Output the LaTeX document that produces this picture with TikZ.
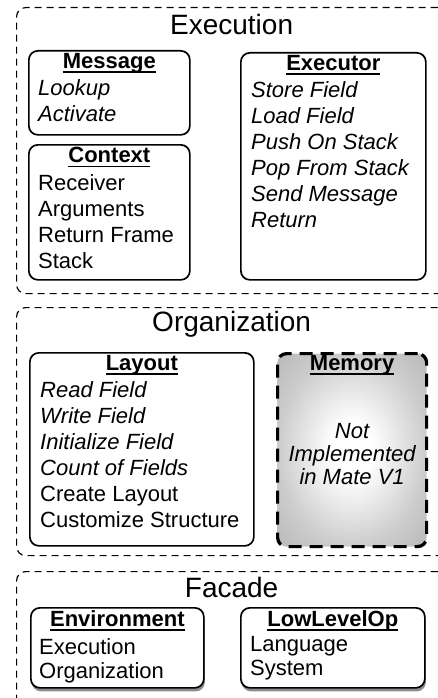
\documentclass[tikz,border=0pt]{standalone}
\usepackage{fontspec}
\setmainfont{Liberation Sans}
\usetikzlibrary{positioning,shadows}

% underlined bold heading of a module
\newcommand\modhead[1]{\setbox0\hbox{\bfseries #1}\rlap{\rule[-4.6pt]{\wd0}{1.5pt}}\box0}
\newcommand\opsfont{\fontsize{22}{26}\selectfont}
\pgfdeclareradialshading{memglow}{\pgfpoint{0bp}{0bp}}{color(0bp)=(white);
  color(7bp)=(white); color(25bp)=(black!20); color(50bp)=(black!38)}

\tikzset{
  layer/.style={draw, dash pattern=on 7pt off 5pt, line width=1.2pt, rounded corners=9pt,
    anchor=north west, inner sep=0pt},
  module/.style={draw, line width=1.7pt, rounded corners=9pt, anchor=north west,
    inner sep=0pt, fill=white},
  missing/.style={module, line width=3.2pt, dash pattern=on 13pt off 8pt,
    shading=memglow},
  facade/.style={module, drop shadow={shadow xshift=1pt, shadow yshift=-3.5pt,
    opacity=0.45, fill=black}},
  title/.style={font=\fontsize{28}{32}\selectfont, inner sep=0pt},
  header/.style={font=\opsfont, inner sep=0pt},
  ops/.style={font=\opsfont, align=left, inner sep=0pt, anchor=north west},
}

\begin{document}
\begin{tikzpicture}[x=1pt, y=-1pt]
   \useasboundingbox (0,0) rectangle (438,698);
   \clip (0,0) rectangle (438,698);

   % layers
   \node[layer, minimum width=430pt, minimum height=286pt] (execution) at (16,7) {};
   \node[layer, minimum width=430pt, minimum height=248pt] (organization) at (16,307) {};
   \node[layer, minimum width=430pt, minimum height=169pt] (facade) at (16,571) {};
   \node[title] (execution_t) [below=7pt of execution.north] {Execution};
   \node[title] (organization_t) [below=4.5pt of organization.north] {Organization};
   \node[title] (facade_t) [below=6pt of facade.north] {Facade};

   % execution
   \node[module, minimum width=161pt, minimum height=84pt] (message) at (28,50) {};
   \node[module, minimum width=161pt, minimum height=135pt] (context) at (28,144) {};
   \node[module, minimum width=185pt, minimum height=227pt] (executor) at (240,52) {};
   \node[header] (message_h) [below=3pt of message.north] {\modhead{Message}};
   \node[header] (context_h) [below=3pt of context.north] {\modhead{Context}};
   \node[header] (executor_h) [below=3pt of executor.north] {\modhead{Executor}};
   \node[ops] (message_o) at ([xshift=10pt, yshift=-29.5pt]message.north west)
      {\textit{Lookup}\\ \textit{Activate}};
   \node[ops] (context_o) at ([xshift=10pt, yshift=-30.5pt]context.north west)
      {Receiver\\ Arguments\\ Return Frame\\ Stack};
   \node[ops] (executor_o) at ([xshift=11pt, yshift=-29.5pt]executor.north west)
      {\textit{Store Field}\\ \textit{Load Field}\\ \textit{Push On Stack}\\
       \textit{Pop From Stack}\\ \textit{Send Message}\\ \textit{Return}};

   % organization
   \node[module, minimum width=224pt, minimum height=193pt] (layout) at (29,352) {};
   \node[missing, minimum width=149pt, minimum height=193pt] (memory) at (276,352) {};
   \node[header] (layout_h) [below=3pt of layout.north] {\modhead{Layout}};
   \node[header] (memory_h) [below=3pt of memory.north] {\modhead{Memory}};
   \node[ops] (layout_o) at ([xshift=11pt, yshift=-29.5pt]layout.north west)
      {\textit{Read Field}\\ \textit{Write Field}\\ \textit{Initialize Field}\\
       \textit{Count of Fields}\\ Create Layout\\ Customize Structure};
   \node[font=\fontsize{22}{23}\selectfont\itshape, align=center, inner sep=0pt]
      (memory_o) at ([yshift=-4pt]memory.center) {Not\\ Implemented\\ in Mate V1};

   % facade
   \node[facade, minimum width=173pt, minimum height=80pt] (environment) at (30,607) {};
   \node[facade, minimum width=184pt, minimum height=80pt] (lowlevelop) at (240,607) {};
   \node[header] (environment_h) [below=3pt of environment.north] {\modhead{Environment}};
   \node[header] (lowlevelop_h) [below=3pt of lowlevelop.north] {\modhead{LowLevelOp}};
   \node[ops, font=\fontsize{22}{24}\selectfont] (environment_o)
      at ([xshift=9pt, yshift=-31pt]environment.north west) {Execution\\ Organization};
   \node[ops, font=\fontsize{22}{24}\selectfont] (lowlevelop_o)
      at ([xshift=10pt, yshift=-29.5pt]lowlevelop.north west) {Language\\ System};
\end{tikzpicture}
\end{document}
